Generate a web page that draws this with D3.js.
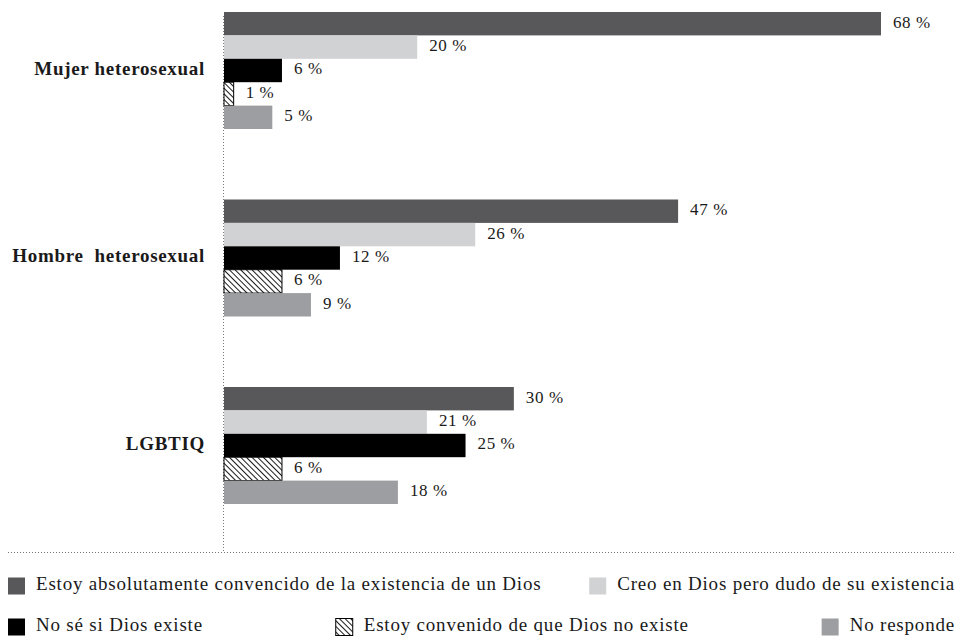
<!DOCTYPE html>
<html lang="es">
<head>
<meta charset="UTF-8">
<title>Creencia en Dios</title>
<script src="https://cdn.jsdelivr.net/npm/d3@7"></script>
<style>
  body { margin: 0; background: #fff; }
  text { font-family: "Liberation Serif", "DejaVu Serif", serif; fill: #1a1a1a; }
  .cat { font-weight: bold; font-size: 19px; letter-spacing: 0.7px; }
  .val { font-size: 17px; letter-spacing: 0.6px; }
  .leg { font-size: 19px; letter-spacing: 0.8px; }
</style>
</head>
<body>
<svg width="958" height="642"></svg>
<script>
// categorias y series
var categories = ["Mujer heterosexual", "Hombre\u00a0 heterosexual", "LGBTIQ"];
var seriesNames = [
  "Estoy absolutamente convencido de la existencia de un Dios",
  "Creo en Dios pero dudo de su existencia",
  "No sé si Dios existe",
  "Estoy convenido de que Dios no existe",
  "No responde"
];
var convencido = [68, 47, 30];
var creoDudo   = [20, 26, 21];
var noSe       = [6, 12, 25];
var noExiste   = [1, 6, 6];
var noResponde = [5, 9, 18];
var seriesValues = [convencido, creoDudo, noSe, noExiste, noResponde];
var colors = ["#58585a", "#d1d2d4", "#000000", "url(#hatch)", "#9d9ea1"];

var svg = d3.select("svg");
var x0 = 224;

var x = d3.scaleLinear().domain([0, 68]).range([x0, 881]);
var y = d3.scaleBand().domain(categories).range([12, 504]).paddingInner(0.376).paddingOuter(0);
var ySub = d3.scaleBand().domain(d3.range(seriesNames.length)).range([0, y.bandwidth()]);

// patron rayado
var pat = svg.append("defs").append("pattern")
  .attr("id", "hatch")
  .attr("patternUnits", "userSpaceOnUse")
  .attr("width", 4).attr("height", 4)
  .attr("patternTransform", "rotate(-45)");
pat.append("rect").attr("width", 4).attr("height", 4).attr("fill", "#fff");
pat.append("line").attr("x1", 0).attr("y1", 0).attr("x2", 0).attr("y2", 4)
  .attr("stroke", "#000").attr("stroke-width", 1.8);

// eje vertical punteado
svg.append("line")
  .attr("x1", x0 - 0.5).attr("x2", x0 - 0.5)
  .attr("y1", 16).attr("y2", 552)
  .attr("stroke", "#777").attr("stroke-width", 1)
  .attr("stroke-dasharray", "1,2");

// linea horizontal punteada
svg.append("line")
  .attr("x1", 8).attr("x2", 955)
  .attr("y1", 552.5).attr("y2", 552.5)
  .attr("stroke", "#777").attr("stroke-width", 1)
  .attr("stroke-dasharray", "1,2");

var groups = svg.selectAll("g.grp")
  .data(categories)
  .enter().append("g")
  .attr("class", "grp")
  .attr("transform", function(d) { return "translate(0," + y(d) + ")"; });

groups.append("text")
  .attr("class", "cat")
  .attr("x", 205)
  .attr("y", y.bandwidth() / 2)
  .attr("text-anchor", "end")
  .attr("dominant-baseline", "middle")
  .text(function(d) { return d; });

groups.each(function(cat, ci) {
  var g = d3.select(this);
  seriesValues.forEach(function(vals, si) {
    var v = vals[ci];
    g.append("rect")
      .attr("x", x(0))
      .attr("y", ySub(si))
      .attr("width", x(v) - x(0))
      .attr("height", ySub.bandwidth())
      .attr("fill", colors[si])
      .attr("stroke", si === 3 ? "#000" : "none")
      .attr("stroke-width", si === 3 ? 1 : 0);
    g.append("text")
      .attr("class", "val")
      .attr("x", x(v) + 12)
      .attr("y", ySub(si) + ySub.bandwidth() / 2)
      .attr("dominant-baseline", "middle")
      .text(v + " %");
  });
});

// leyenda
var legendRows = [[0, 1], [2, 3, 4]];
var legendY = [586, 627];
var left = 8, right = 955, sw = 17, gap = 11;

legendRows.forEach(function(row, ri) {
  var items = row.map(function(si) {
    var g = svg.append("g");
    g.append("rect")
      .attr("x", 0).attr("y", -sw / 2)
      .attr("width", sw).attr("height", sw)
      .attr("fill", colors[si])
      .attr("stroke", si === 3 ? "#000" : "none")
      .attr("stroke-width", si === 3 ? 1 : 0);
    var t = g.append("text")
      .attr("class", "leg")
      .attr("x", sw + gap)
      .attr("y", 0)
      .attr("dominant-baseline", "middle")
      .text(seriesNames[si]);
    return { g: g, w: sw + gap + t.node().getComputedTextLength() };
  });
  var total = d3.sum(items, function(d) { return d.w; });
  var space = (right - left - total) / (items.length - 1);
  var cx = left;
  items.forEach(function(it) {
    it.g.attr("transform", "translate(" + cx + "," + legendY[ri] + ")");
    cx += it.w + space;
  });
});
</script>
</body>
</html>
